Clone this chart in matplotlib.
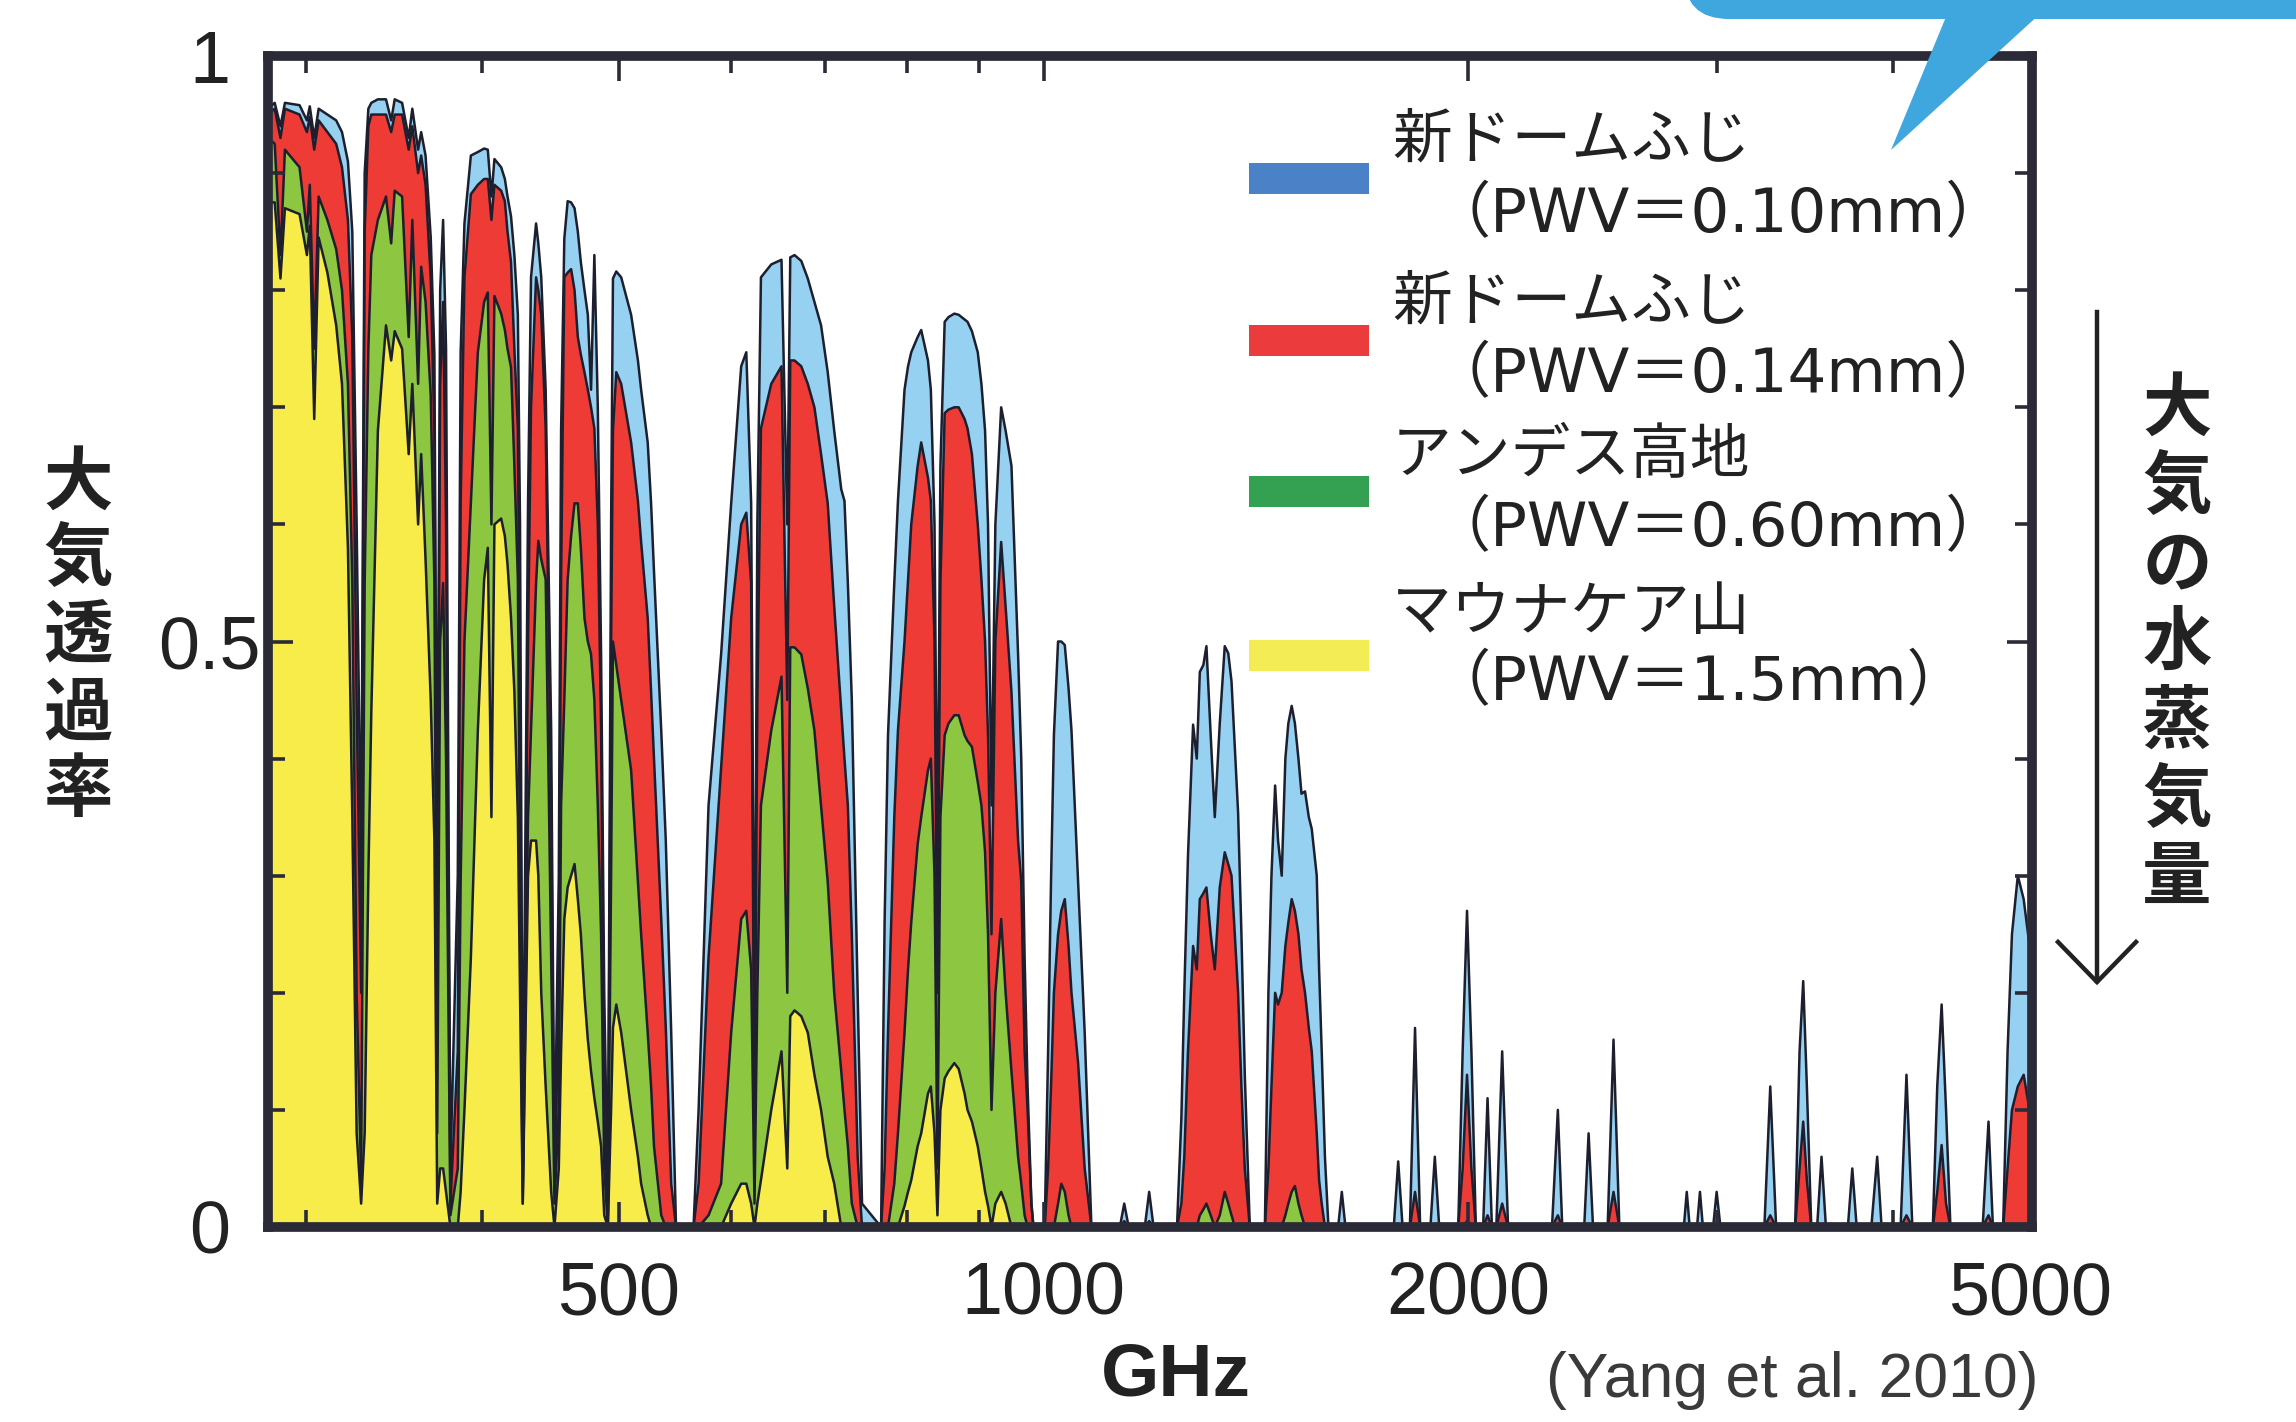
import numpy as np
import matplotlib
matplotlib.use("Agg")
import matplotlib.pyplot as plt
from matplotlib.patches import Rectangle, Polygon, FancyBboxPatch
from matplotlib.lines import Line2D
from matplotlib.ticker import FixedLocator, FixedFormatter, NullFormatter

W, H = 2296, 1422
plt.rcParams['font.family'] = ['Liberation Sans', 'DejaVu Sans']
JP = ['Noto Sans CJK JP', 'DejaVu Sans']
JP_LATIN = ['DejaVu Sans', 'Noto Sans CJK JP']

# ---------------- data ----------------
freq_ghz = [
    282.0, 285.1, 287.8, 289.9, 296.9, 300.5, 301.9, 304.1, 306.3, 310.7,
    315.2, 318.2, 321.3, 323.6, 325.9, 328.3, 330.2, 332.2, 333.8, 337.4,
    341.9, 344.8, 346.8, 351.0, 354.8, 356.9, 360.3, 362.1, 364.7, 367.8,
    370.0, 371.7, 373.5, 375.3, 377.1, 379.8, 384.4, 386.2, 388.6, 392.7,
    397.2, 401.3, 403.7, 406.1, 408.1, 412.6, 415.1, 416.9, 419.3, 421.6,
    424.0, 425.5, 427.4, 431.1, 433.2, 436.8, 438.4, 440.5, 443.7, 447.7,
    450.1, 453.3, 455.0, 457.4, 459.9, 462.5, 465.1, 467.6, 469.9, 472.7,
    475.3, 477.8, 480.4, 483.1, 485.7, 488.2, 491.1, 493.7, 495.2, 497.9,
    501.9, 510.1, 515.8, 518.5, 524.1, 527.0, 529.5, 535.8, 539.8, 544.6,
    548.9, 564.8, 569.5, 578.8, 590.8, 600.6, 610.5, 615.6, 620.5, 623.9,
    626.8, 630.5, 641.2, 652.0, 658.2, 661.4, 666.0, 673.4, 680.6, 688.0,
    695.5, 703.1, 710.6, 718.8, 722.6, 726.6, 731.3, 738.3, 743.6, 767.1,
    771.5, 775.8, 783.8, 788.5, 797.0, 801.6, 805.8, 814.3, 819.0, 828.1,
    832.0, 837.0, 841.0, 845.1, 851.0, 856.3, 864.5, 870.7, 879.1, 883.3,
    889.7, 898.2, 903.6, 909.0, 913.4, 918.6, 924.4, 933.2, 940.0, 949.0,
    959.3, 964.3, 969.6, 974.3, 980.4, 983.7, 1001.9, 1007.5, 1012.3, 1017.1,
    1024.0, 1029.4, 1035.3, 1041.7, 1046.7, 1058.1, 1069.5, 1081.3, 1132.7, 1140.8,
    1149.1, 1179.7, 1188.2, 1196.7, 1243.4, 1252.3, 1258.3, 1265.9, 1276.5, 1284.2,
    1290.6, 1298.1, 1304.6, 1313.7, 1322.5, 1333.3, 1344.2, 1351.9, 1359.1, 1366.5,
    1373.8, 1381.3, 1388.9, 1400.3, 1435.2, 1443.5, 1450.7, 1459.4, 1466.4, 1475.2,
    1484.0, 1491.2, 1499.4, 1507.3, 1516.0, 1523.6, 1532.4, 1541.9, 1549.3, 1562.0,
    1568.0, 1574.7, 1583.0, 1592.1, 1617.5, 1627.2, 1636.9, 1771.3, 1784.1, 1796.9,
    1818.5, 1833.8, 1849.2, 1880.4, 1894.0, 1907.6, 1967.8, 1982.0, 1996.2, 2010.6,
    2025.1, 2049.4, 2064.2, 2079.0, 2094.0, 2114.1, 2134.5, 2293.2, 2315.2, 2331.9,
    2417.0, 2434.4, 2452.0, 2511.3, 2535.4, 2559.8, 2843.8, 2857.4, 2871.1, 2905.6,
    2919.6, 2933.6, 2983.1, 3000.2, 3018.9, 3243.4, 3274.6, 3306.1, 3410.4, 3435.0,
    3455.6, 3476.3, 3501.3, 3535.0, 3560.4, 3586.1, 3717.0, 3743.8, 3770.7, 3862.0,
    3899.1, 3927.1, 4051.1, 4090.0, 4129.4, 4269.9, 4300.6, 4331.6, 4362.8, 4394.2,
    4631.5, 4676.0, 4709.7, 4789.2, 4823.7, 4858.4, 4905.1, 4952.2, 4999.8, 5020.0,
]

# New Dome Fuji, PWV = 0.10 mm
t_pwv010 = [
    .955, .96, .94, .96, .958, .945, .957, .93, .955, .95,
    .945, .935, .91, .85, .6, .3, .9, .955, .96, .963,
    .963, .945, .963, .96, .93, .955, .92, .935, .915, .845,
    .745, .3, .8, .86, .75, .05, .3, .747, .857, .915,
    .918, .921, .92, .88, .912, .905, .895, .88, .863, .83,
    .779, .6, .05, .618, .811, .857, .84, .811, .715, .424,
    .05, .3, .68, .844, .876, .875, .87, .85, .824, .80,
    .779, .715, .83, .70, .489, .2, .02, .6, .81, .816,
    .811, .779, .74, .715, .67, .618, .56, .424, .33, .166,
    0, 0, .10, .36, .489, .618, .735, .747, .618, .15,
    .6, .811, .822, .826, .6, .828, .83, .825, .81, .79,
    .77, .73, .68, .63, .62, .55, .45, .2, .02, 0,
    .26, .42, .55, .62, .715, .735, .747, .76, .766, .74,
    .715, .6, .3, .65, .773, .777, .78, .779, .775, .773,
    .765, .747, .72, .68, .6, .36, .6, .70, .68, .65,
    .489, .40, .23, .12, .02, 0, 0, .15, .295, .42,
    .50, .50, .497, .46, .424, .295, .166, 0, 0, .02,
    0, 0, .03, 0, 0, .093, .2, .317, .429, .40,
    .474, .48, .496, .42, .35, .43, .496, .49, .466, .41,
    .354, .25, .13, 0, 0, .2, .3, .377, .33, .30,
    .40, .43, .445, .43, .40, .37, .372, .35, .34, .30,
    .22, .15, .06, 0, 0, .03, 0, 0, .056, 0,
    0, .17, 0, 0, .06, 0, 0, .15, .27, .15,
    0, 0, .11, 0, 0, .15, 0, 0, .10, 0,
    0, .08, 0, 0, .16, 0, 0, .03, 0, 0,
    .03, 0, 0, .03, 0, 0, .12, 0, 0, .15,
    .21, .12, 0, 0, .06, 0, 0, .05, 0, 0,
    .06, 0, 0, .13, 0, 0, .12, .19, .1, 0,
    0, .09, 0, 0, .15, .25, .30, .28, .24, .22,
]

# New Dome Fuji, PWV = 0.14 mm
t_pwv014 = [
    .95, .955, .93, .955, .95, .935, .948, .92, .945, .935,
    .925, .905, .86, .76, .45, .2, .85, .94, .95, .95,
    .95, .935, .95, .95, .92, .94, .90, .915, .89, .81,
    .68, .2, .72, .79, .6, .02, .15, .618, .811, .882,
    .89, .895, .895, .86, .89, .885, .876, .85, .824, .75,
    .682, .45, .03, .5, .7, .811, .80, .779, .682, .36,
    .03, .2, .553, .811, .815, .818, .80, .76, .745, .73,
    .715, .70, .682, .60, .424, .1, .01, .5, .68, .73,
    .72, .67, .62, .585, .52, .457, .40, .263, .17, .037,
    0, 0, .037, .23, .392, .52, .60, .61, .55, .08,
    .45, .682, .72, .735, .45, .74, .74, .735, .72, .70,
    .66, .618, .53, .44, .40, .36, .25, .06, 0, 0,
    .05, .166, .35, .424, .50, .553, .60, .65, .67, .64,
    .62, .5, .2, .55, .695, .698, .70, .70, .69, .682,
    .66, .60, .553, .50, .42, .25, .5, .585, .53, .457,
    .33, .295, .15, .10, .02, 0, 0, .05, .12, .2,
    .25, .27, .28, .24, .2, .14, .05, 0, 0, .005,
    0, 0, .005, 0, 0, .02, .06, .15, .24, .22,
    .28, .285, .29, .25, .22, .29, .32, .31, .30, .25,
    .20, .12, .05, 0, 0, .05, .12, .2, .19, .2,
    .24, .26, .28, .27, .25, .22, .20, .17, .15, .08,
    .04, .02, 0, 0, 0, 0, 0, 0, 0, 0,
    0, .03, 0, 0, 0, 0, 0, .05, .13, .05,
    0, 0, .01, 0, 0, .02, 0, 0, .01, 0,
    0, 0, 0, 0, .03, 0, 0, 0, 0, 0,
    0, 0, 0, 0, 0, 0, .01, 0, 0, .05,
    .09, .04, 0, 0, 0, 0, 0, 0, 0, 0,
    0, 0, 0, .01, 0, 0, .03, .07, .02, 0,
    0, .01, 0, 0, .05, .10, .12, .13, .10, .08,
]

# Andes highland, PWV = 0.60 mm
t_pwv060 = [
    .93, .925, .83, .92, .905, .85, .89, .75, .88, .86,
    .835, .80, .72, .55, .2, .04, .55, .75, .83, .86,
    .88, .84, .885, .88, .76, .86, .72, .82, .79, .71,
    .55, .08, .5, .55, .4, .01, .05, .295, .5, .618,
    .747, .79, .798, .6, .795, .78, .766, .75, .734, .65,
    .553, .3, .02, .35, .424, .55, .586, .57, .553, .23,
    .02, .1, .36, .45, .553, .59, .618, .618, .58, .52,
    .50, .489, .45, .36, .25, .05, 0, .3, .50, .48,
    .45, .39, .295, .25, .166, .12, .069, .01, 0, 0,
    0, 0, 0, .01, .037, .166, .263, .27, .22, .02,
    .2, .36, .424, .47, .2, .495, .495, .489, .46, .424,
    .36, .295, .2, .133, .1, .069, .02, 0, 0, 0,
    0, 0, .037, .08, .166, .22, .26, .327, .35, .39,
    .40, .3, .05, .35, .42, .43, .437, .437, .42, .415,
    .41, .38, .36, .32, .25, .1, .2, .263, .2, .133,
    .06, .037, .01, 0, 0, 0, 0, 0, 0, 0,
    .02, .037, .03, .01, 0, 0, 0, 0, 0, 0,
    0, 0, 0, 0, 0, 0, 0, 0, 0, 0,
    .01, .015, .02, .01, 0, .01, .03, .02, .01, 0,
    0, 0, 0, 0, 0, 0, 0, 0, 0, 0,
    .01, .02, .03, .035, .02, .01, 0, 0, 0, 0,
    0, 0, 0, 0, 0, 0, 0, 0, 0, 0,
    0, 0, 0, 0, 0, 0, 0, 0, .005, 0,
] + [0.0] * 60

# Mauna Kea, PWV = 1.5 mm
t_pwv150 = [
    .875, .875, .81, .87, .865, .83, .855, .69, .845, .815,
    .77, .72, .58, .35, .08, .02, .08, .3, .44, .68,
    .77, .74, .765, .75, .66, .72, .60, .66, .57, .45,
    .33, .02, .05, .05, .03, 0, 0, .03, .10, .23,
    .424, .553, .58, .35, .60, .605, .59, .566, .52, .457,
    .35, .2, .02, .3, .33, .33, .3, .2, .12, .03,
    0, .05, .15, .263, .29, .30, .31, .28, .25, .198,
    .16, .133, .11, .09, .069, .01, 0, .1, .17, .19,
    .166, .10, .06, .037, .01, 0, 0, 0, 0, 0,
    0, 0, 0, 0, 0, .02, .037, .037, .02, 0,
    .02, .04, .10, .15, .05, .18, .185, .18, .166, .13,
    .10, .06, .037, 0, 0, 0, 0, 0, 0, 0,
    0, 0, 0, 0, .018, .03, .04, .069, .08, .114,
    .12, .08, .01, .10, .127, .133, .14, .135, .114, .10,
    .09, .069, .05, .03, .018, 0, .02, .03, .02, 0,
] + [0.0] * 140

series_labels = ["新ドームふじ", "新ドームふじ", "アンデス高地", "マウナケア山"]
series_pwv = ["（PWV＝0.10mm）", "（PWV＝0.14mm）", "（PWV＝0.60mm）", "（PWV＝1.5mm）"]
x_major = [500, 1000, 2000, 5000]
x_major_labels = ["500", "1000", "2000", "5000"]
x_minor = [300, 400, 600, 700, 800, 900, 3000, 4000]
y_major = [0, 0.5, 1]
y_major_labels = ["0", "0.5", "1"]
y_minor = [0.1, 0.2, 0.3, 0.4, 0.6, 0.7, 0.8, 0.9]

fill_colors = ['#96d1f2', '#ee3b36', '#8dc640', '#f8ec4a']
legend_colors = ['#4a81c7', '#ec3b3c', '#33a052', '#f3ec55']
outline = '#1d1f2e'
spine_c = '#2b2b37'

# ---------------- figure ----------------
fig = plt.figure(figsize=(W / 100, H / 100), dpi=100)
fig.patch.set_facecolor('white')
ax = fig.add_axes([268 / W, 1 - 1227 / H, (2032 - 268) / W, (1227 - 56) / H])

for vals, col in zip([t_pwv010, t_pwv014, t_pwv060, t_pwv150], fill_colors):
    ax.fill_between(freq_ghz, 0, vals, color=col, lw=0, zorder=1)
    ax.plot(freq_ghz, vals, color=outline, lw=1.8, zorder=1.5)

ax.set_xscale('log')
ax.set_xlim(282, 5020)
ax.set_ylim(0, 1)
ax.xaxis.set_major_locator(FixedLocator(x_major))
ax.xaxis.set_major_formatter(FixedFormatter(x_major_labels))
ax.xaxis.set_minor_locator(FixedLocator(x_minor))
ax.xaxis.set_minor_formatter(NullFormatter())
ax.yaxis.set_major_locator(FixedLocator(y_major))
ax.yaxis.set_major_formatter(FixedFormatter(y_major_labels))
ax.yaxis.set_minor_locator(FixedLocator(y_minor))
ax.yaxis.set_minor_formatter(NullFormatter())

for s in ax.spines.values():
    s.set_linewidth(7)
    s.set_color(spine_c)
    s.set_zorder(3)
ax.tick_params(which='both', direction='in', top=True, right=True, color=spine_c,
               width=2.6, labelcolor='#222222', labelsize=53)
ax.tick_params(which='major', length=18)
ax.tick_params(which='minor', length=12)
ax.tick_params(axis='x', which='major', pad=24)
ax.tick_params(axis='y', which='major', pad=42)
for lab in ax.get_yticklabels():
    lab.set_horizontalalignment('center')

# ---------------- overlay (pixel coords, y down) ----------------
ov = fig.add_axes([0, 0, 1, 1], zorder=5)
ov.set_xlim(0, W)
ov.set_ylim(H, 0)
ov.axis('off')

# speech bubble corner
bub = '#3fa7dd'
ov.add_patch(FancyBboxPatch((1684, -120), 800, 139,
                            boxstyle='round,pad=0,rounding_size=45',
                            fc=bub, ec='none'))
ov.add_patch(Polygon([(1948, 12), (1891, 150), (2042, 12)], closed=True,
                     fc=bub, ec='none'))

# legend
rect_cy = [178, 340, 491, 655]
line1_cy = [141, 303, 456, 613]
line2_cy = [216, 376, 530, 684]
for i in range(4):
    ov.add_patch(Rectangle((1249, rect_cy[i] - 15.5), 120, 31,
                           fc=legend_colors[i], ec='none'))
    ov.text(1392, line1_cy[i], series_labels[i], family=JP, fontsize=43,
            ha='left', va='center', color='#222222')
    ov.text(1430, line2_cy[i], series_pwv[i], family=JP_LATIN, fontsize=44,
            ha='left', va='center', color='#222222')

# y label (vertical, stacked)
for i, ch in enumerate("大気透過率"):
    ov.text(78, 483 + i * 77, ch, family=JP, fontsize=50, fontweight='bold',
            ha='center', va='center', color='#222222')

# right annotation
for i, ch in enumerate("大気の水蒸気量"):
    ov.text(2177, 409 + i * 78.3, ch, family=JP, fontsize=50, fontweight='bold',
            ha='center', va='center', color='#222222')
ov.add_line(Line2D([2097, 2097], [312, 981], color='#222222', lw=3.2))
ov.add_line(Line2D([2058, 2097, 2136], [942, 982, 942], color='#222222', lw=3.2,
                   solid_joinstyle='miter'))

# x label and citation
ov.text(1176, 1376, "GHz", fontsize=54, fontweight='bold', ha='center',
        va='center', color='#222222')
ov.text(1792, 1381, "(Yang et al. 2010)", fontsize=45, ha='center',
        va='center', color='#3a3a3a')

fig.savefig('out.png', dpi=100, facecolor='white')
